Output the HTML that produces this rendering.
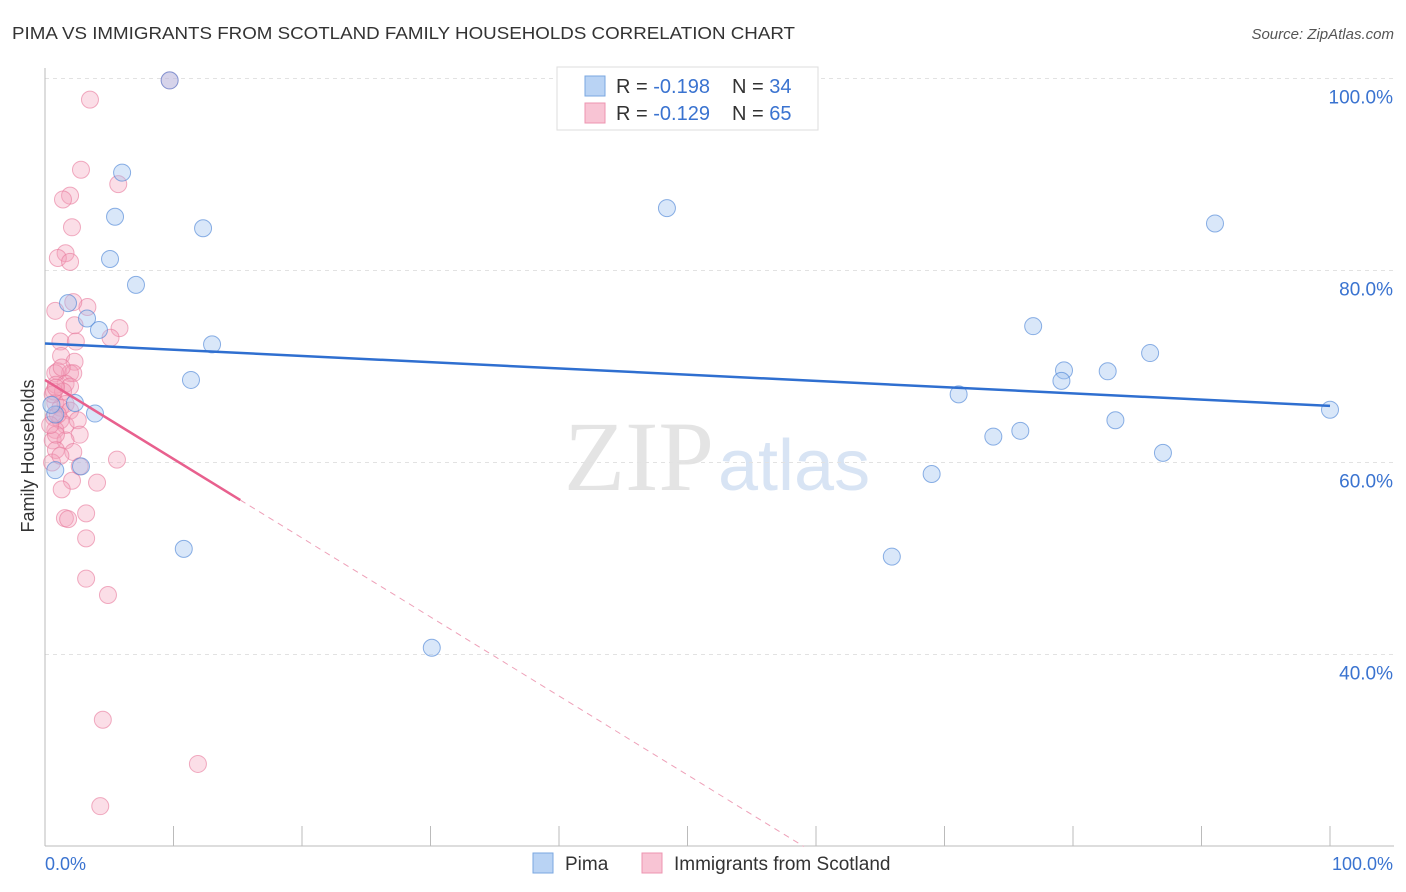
<!DOCTYPE html>
<html><head><meta charset="utf-8"><style>
body{margin:0;background:#fff;font-family:"Liberation Sans",sans-serif}
</style></head><body>
<svg id="c" width="1406" height="892" style="display:block">
<text x="12" y="39" font-size="17.5" fill="#333" textLength="783" lengthAdjust="spacingAndGlyphs">PIMA VS IMMIGRANTS FROM SCOTLAND FAMILY HOUSEHOLDS CORRELATION CHART</text>
<text x="1394" y="39" font-size="15" fill="#555" font-style="italic" text-anchor="end">Source: ZipAtlas.com</text>
<text x="714" y="490" font-size="100" fill="#e4e4e4" text-anchor="end" font-family="Liberation Serif">ZIP</text>
<text x="718" y="490" font-size="72" fill="#d8e4f4">atlas</text>
<text transform="translate(34,456) rotate(-90)" font-size="18" fill="#333" text-anchor="middle">Family Households</text>
<g id="grid"></g><g id="marks"></g>
<g>
<rect x="557" y="67" width="261" height="63" fill="#fff" stroke="#ddd"/>
<rect x="585" y="76" width="20" height="20" fill="#b9d3f4" stroke="#7aa7e0"/>
<rect x="585" y="103" width="20" height="20" fill="#f8c4d4" stroke="#ee94b0"/>
<text x="616" y="93" font-size="20" fill="#333">R = <tspan fill="#3a73d0">-0.198</tspan></text>
<text x="732" y="93" font-size="20" fill="#333">N = <tspan fill="#3a73d0">34</tspan></text>
<text x="616" y="120" font-size="20" fill="#333">R = <tspan fill="#3a73d0">-0.129</tspan></text>
<text x="732" y="120" font-size="20" fill="#333">N = <tspan fill="#3a73d0">65</tspan></text>
</g>
<g>
<rect x="533" y="853" width="20" height="20" fill="#b9d3f4" stroke="#7aa7e0"/>
<text x="565" y="870" font-size="19" fill="#333">Pima</text>
<rect x="642" y="853" width="20" height="20" fill="#f8c4d4" stroke="#ee94b0"/>
<text x="674" y="870" font-size="19" fill="#333">Immigrants from Scotland</text>
</g>
</svg>
<script>
const yTicks=[40,60,80,100];
const yTickLabels=["40.0%","60.0%","80.0%","100.0%"];
const pimaX=[9.7,6.0,5.45,12.3,5.06,7.08,1.79,3.27,4.2,13.0,11.36,2.33,3.89,2.8,10.8,30.1,48.4,91.05,76.9,86.0,79.3,82.7,79.1,71.1,100,83.3,75.9,73.8,87.0,69.0,65.9,0.8,0.5,0.8];
const pimaY=[99.8,90.2,85.6,84.4,81.2,78.5,76.6,75.0,73.8,72.3,68.6,66.2,65.1,59.6,51.0,40.7,86.5,84.9,74.2,71.4,69.6,69.5,68.5,67.1,65.5,64.4,63.3,62.7,61.0,58.8,50.2,65.0,66.0,59.2];
const scotX=[9.7,3.5,2.8,1.95,5.7,1.4,2.1,1.6,1.0,1.95,0.8,3.3,2.2,5.8,2.3,5.1,1.2,2.4,1.25,2.3,1.0,1.95,0.8,2.2,1.6,0.85,1.95,0.7,1.4,0.8,1.6,1.2,1.95,0.7,1.2,1.6,2.55,0.8,2.7,0.6,1.6,0.85,2.2,5.6,0.55,2.7,4.05,2.1,1.3,1.55,1.8,3.2,3.2,3.2,4.9,4.5,11.9,4.3,1.2,0.85,0.6,1.0,0.4,1.3,0.85];
const scotY=[99.8,97.8,90.5,87.8,89.0,87.4,84.5,81.8,81.3,80.9,75.8,76.2,76.7,74.0,74.3,73.0,72.6,72.6,71.1,70.5,69.5,69.3,69.3,69.3,68.2,68.1,67.9,67.4,67.4,66.2,66.1,65.7,65.4,64.7,64.4,63.9,64.4,63.4,62.9,62.3,62.3,61.3,61.1,60.3,60.0,59.6,57.9,58.1,57.2,54.2,54.1,54.7,52.1,47.9,46.2,33.2,28.6,24.2,60.7,62.9,67.1,65.0,63.9,69.9,67.8];
const pimaTrend=[72.4,65.9];
const scotTrend=[68.6,-0.823];
const sx=v=>45+v*12.85, sy=v=>78.5+(100-v)*9.6;
const NS="http://www.w3.org/2000/svg";
function mk(parent,tag,attrs){const e=document.createElementNS(NS,tag);for(const k in attrs)e.setAttribute(k,attrs[k]);parent.appendChild(e);return e;}
const grid=document.getElementById('grid'), marks=document.getElementById('marks');
yTicks.forEach((t,i)=>{
 const l=mk(grid,'line',{x1:45,y1:sy(t),x2:1394,y2:sy(t),stroke:'#e2e2e2','stroke-dasharray':'4,4'});
 
 
 const tx=mk(grid,'text',{x:1393,y:sy(t)+25,'font-size':19,fill:'#3a73d0','text-anchor':'end'});
 tx.textContent=yTickLabels[i];
 
 
});
let ax=mk(grid,'line',{x1:45,y1:68,x2:45,y2:846,stroke:'#bbb'});


let bx=mk(grid,'line',{x1:45,y1:846,x2:1394,y2:846,stroke:'#bbb'});


for(let i=0;i<=10;i++){const t=mk(grid,'line',{x1:45+i*128.5,y1:826,x2:45+i*128.5,y2:846,stroke:'#bbb'});
 
 }
[['0.0%',45,'start'],['100.0%',1393,'end']].forEach(a=>{const t=mk(grid,'text',{x:a[1],y:870,'font-size':18,fill:'#3a73d0','text-anchor':a[2]});t.textContent=a[0];
 
 });
scotX.forEach((x,i)=>{const c=mk(marks,'circle',{cx:sx(x),cy:sy(scotY[i]),r:8.5,fill:'rgba(244,160,186,0.35)',stroke:'rgba(232,120,155,0.6)'});
 
 });
pimaX.forEach((x,i)=>{const c=mk(marks,'circle',{cx:sx(x),cy:sy(pimaY[i]),r:8.5,fill:'rgba(160,196,240,0.4)',stroke:'rgba(80,135,215,0.65)'});
 
 });
let pl=mk(marks,'line',{x1:sx(0),y1:sy(pimaTrend[0]),x2:sx(100),y2:sy(pimaTrend[1]),stroke:'#2f6fd0','stroke-width':2.5});


const xe=(20-scotTrend[0])/scotTrend[1];
let sl=mk(marks,'line',{x1:sx(0),y1:sy(scotTrend[0]),x2:sx(15.2),y2:sy(scotTrend[0]+scotTrend[1]*15.2),stroke:'#e8608e','stroke-width':2.5});


let sd=mk(marks,'line',{x1:sx(15.2),y1:sy(scotTrend[0]+scotTrend[1]*15.2),x2:sx(xe),y2:sy(20),stroke:'#eea0b8','stroke-width':1,'stroke-dasharray':'6,5'});


</script>
</body></html>
